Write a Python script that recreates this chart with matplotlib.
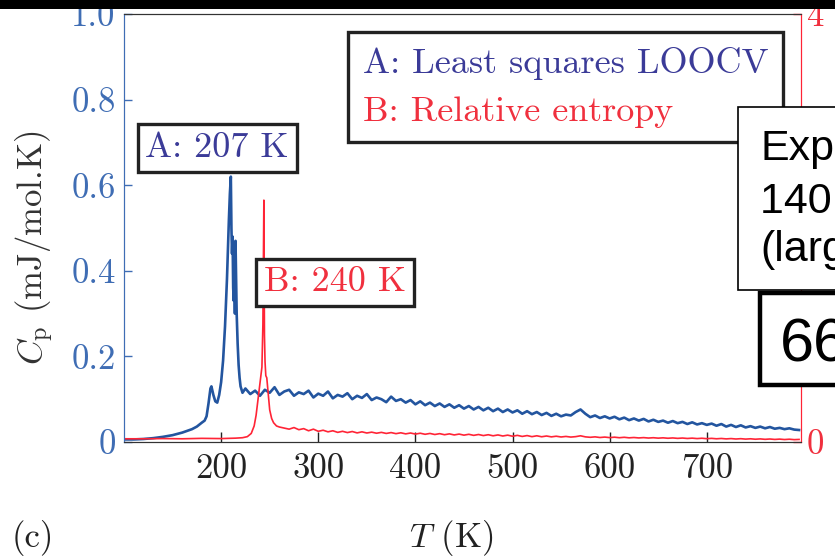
import matplotlib
matplotlib.use("Agg")
import matplotlib.pyplot as plt
from matplotlib.patches import Rectangle

plt.rcParams["font.family"] = "serif"
plt.rcParams["font.serif"] = ["cmr10"]
plt.rcParams["mathtext.fontset"] = "cm"
plt.rcParams["axes.unicode_minus"] = False

# ── data ──
# A: least squares LOOCV, left axis
blue_T = [100, 110, 120, 130, 140, 150, 160, 170, 175, 180, 183, 185, 187, 189, 190,
          192, 194, 196, 198, 200, 202, 204, 206, 207, 208, 209, 210, 210.6, 211.2,
          211.8, 212.4, 213, 213.6, 214.2, 214.8, 215.4, 216, 217, 218, 219, 220, 222,
          225, 230, 235, 240, 245, 250, 255, 260, 265, 270, 275, 280, 285, 290, 295,
          300, 305, 310, 315, 320, 325, 330, 335, 340, 345, 350, 355, 360, 365, 370,
          375, 380, 385, 390, 395, 400, 405, 410, 415, 420, 425, 430, 435, 440, 445,
          450, 455, 460, 465, 470, 475, 480, 485, 490, 495, 500, 505, 510, 515, 520,
          525, 530, 535, 540, 545, 550, 555, 560, 565, 570, 575, 580, 585, 590, 595,
          600, 605, 610, 615, 620, 625, 630, 635, 640, 645, 650, 655, 660, 665, 670,
          675, 680, 685, 690, 695, 700, 705, 710, 715, 720, 725, 730, 735, 740, 745,
          750, 755, 760, 765, 770, 775, 780, 785, 790, 795]
blue_cp = [0.006, 0.006, 0.007, 0.009, 0.012, 0.016, 0.022, 0.030, 0.036, 0.045, 0.050,
           0.060, 0.090, 0.125, 0.130, 0.110, 0.095, 0.092, 0.110, 0.140, 0.190, 0.270,
           0.380, 0.450, 0.520, 0.580, 0.620, 0.500, 0.440, 0.480, 0.360, 0.330, 0.400,
           0.300, 0.470, 0.380, 0.300, 0.230, 0.180, 0.150, 0.130, 0.115,
           0.125, 0.112, 0.120, 0.108, 0.122, 0.115, 0.128, 0.110, 0.118, 0.122, 0.108,
           0.116, 0.112, 0.120, 0.104, 0.113, 0.108, 0.118, 0.102, 0.110, 0.106, 0.114,
           0.100, 0.108, 0.103, 0.112, 0.098, 0.104, 0.100, 0.093, 0.106, 0.096, 0.100,
           0.092, 0.098, 0.088, 0.095, 0.086, 0.092, 0.084, 0.090, 0.082, 0.088, 0.080,
           0.086, 0.078, 0.084, 0.076, 0.082, 0.074, 0.080, 0.072, 0.078, 0.070, 0.076,
           0.069, 0.074, 0.066, 0.072, 0.065, 0.070, 0.063, 0.068, 0.061, 0.066, 0.060,
           0.064, 0.062, 0.070, 0.076, 0.066, 0.058, 0.062, 0.056, 0.060, 0.055, 0.059,
           0.053, 0.057, 0.051, 0.055, 0.050, 0.054, 0.048, 0.052, 0.047, 0.050, 0.045,
           0.049, 0.044, 0.047, 0.042, 0.046, 0.041, 0.044, 0.040, 0.043, 0.038, 0.042,
           0.036, 0.040, 0.035, 0.039, 0.034, 0.037, 0.033, 0.036, 0.032, 0.035, 0.031,
           0.033, 0.030, 0.032, 0.029, 0.028]

# B: relative entropy, right axis
red_T = [100, 120, 140, 160, 180, 200, 215, 222, 227, 231, 234, 236, 238, 240, 241,
         242, 243, 244, 244.6, 245.2, 246, 247, 248, 249, 250, 252, 254, 257, 260,
         265, 270, 275, 280, 285, 290, 295, 300, 305, 310, 315, 320, 325, 330, 335,
         340, 345, 350, 355, 360, 365, 370, 375, 380, 385, 390, 395, 400, 405, 410,
         415, 420, 425, 430, 435, 440, 445, 450, 455, 460, 465, 470, 475, 480, 485,
         490, 495, 500, 505, 510, 515, 520, 525, 530, 535, 540, 545, 550, 555, 560,
         565, 570, 575, 580, 585, 590, 595, 600, 605, 610, 615, 620, 625, 630, 635,
         640, 645, 650, 655, 660, 665, 670, 675, 680, 685, 690, 695, 700, 705, 710,
         715, 720, 725, 730, 735, 740, 745, 750, 755, 760, 765, 770, 775, 780, 785,
         790, 795]
red_cp = [0.030, 0.030, 0.032, 0.030, 0.034, 0.032, 0.036, 0.040, 0.050, 0.080, 0.150,
          0.250, 0.400, 0.550, 0.620, 0.700, 1.100, 2.260, 1.000, 0.750, 0.620, 0.600,
          0.500, 0.400, 0.300, 0.220, 0.180, 0.150, 0.140,
          0.130, 0.120, 0.135, 0.115, 0.125, 0.105, 0.120, 0.100, 0.110, 0.095, 0.105,
          0.090, 0.100, 0.088, 0.098, 0.085, 0.095, 0.084, 0.092, 0.082, 0.090, 0.080,
          0.088, 0.078, 0.086, 0.076, 0.084, 0.074, 0.082, 0.072, 0.080, 0.070, 0.078,
          0.068, 0.076, 0.066, 0.074, 0.064, 0.072, 0.062, 0.070, 0.060, 0.068, 0.058,
          0.066, 0.056, 0.064, 0.054, 0.062, 0.052, 0.060, 0.050, 0.058, 0.049, 0.056,
          0.048, 0.054, 0.047, 0.052, 0.046, 0.050, 0.058, 0.048, 0.044, 0.048, 0.042,
          0.046, 0.041, 0.045, 0.040, 0.044, 0.039, 0.042, 0.038, 0.041, 0.037, 0.040,
          0.036, 0.039, 0.035, 0.038, 0.034, 0.037, 0.033, 0.036, 0.032, 0.035, 0.031,
          0.034, 0.030, 0.033, 0.029, 0.032, 0.028, 0.031, 0.027, 0.030, 0.026, 0.029,
          0.025, 0.028, 0.024, 0.027, 0.023, 0.026, 0.022, 0.024]

x_ticks = [200, 300, 400, 500, 600, 700]
left_ticks = [0, 0.2, 0.4, 0.6, 0.8, 1.0]
left_labels = ["0", "0.2", "0.4", "0.6", "0.8", "1.0"]
right_ticks = [0, 1, 2, 3, 4]

BLUE = "#23559f"
BLUE_TXT = "#3f6db4"
INDIGO = "#3b3b98"
RED = "#ff2436"
RED_TXT = "#f0303e"
FS = 25      # tick labels, axis labels
FS_BOX = 26  # legend and peak labels

W, H = 835, 557


def fx(x):
    return x / W


def fy(y):
    return 1 - y / H


fig = plt.figure(figsize=(W / 100, H / 100), dpi=100)
ax = fig.add_axes([fx(124), fy(442), fx(801) - fx(124), fy(14) - fy(442)])
ax2 = ax.twinx()

ax.plot(blue_T, blue_cp, color=BLUE, lw=1.9, label="A: Least squares LOOCV")
ax2.plot(red_T, red_cp, color=RED, lw=1.2, label="B: Relative entropy")

ax.set_xlim(100, 797)
ax.set_ylim(0, 1.0)
ax2.set_ylim(0, 4)

ax.set_xticks(x_ticks)
ax.set_xticklabels([str(t) for t in x_ticks])
ax.set_yticks(left_ticks)
ax.set_yticklabels(left_labels)
ax2.set_yticks(right_ticks)

ax.tick_params(axis="x", direction="in", length=7, width=1, colors="#222222",
               labelsize=FS, pad=8)
ax.tick_params(axis="y", direction="in", length=6, width=1, colors=BLUE_TXT,
               labelsize=FS, pad=6)
ax2.tick_params(axis="y", direction="in", length=6, width=1, colors=RED_TXT,
                labelsize=FS, pad=4)

for a in (ax, ax2):
    a.spines["top"].set_color("#333333")
    a.spines["bottom"].set_color("#333333")
    a.spines["left"].set_color(BLUE_TXT)
    a.spines["right"].set_color(RED)

ax.set_ylabel(r"$C_{\mathrm{p}}$ (mJ/mol.K)", fontsize=FS, color="#333333")
ax.yaxis.set_label_coords((56 - 124) / 677, (442 - 248) / 428)

fig.text(fx(451), fy(538), r"$T$ (K)", fontsize=FS, ha="center", va="center",
         color="#222222")
fig.text(fx(12), fy(538), "(c)", fontsize=FS, ha="left", va="center", color="#222222")

# legend
h1, l1 = ax.get_legend_handles_labels()
h2, l2 = ax2.get_legend_handles_labels()
leg = ax2.legend(h1 + h2, l1 + l2, loc="upper right", fontsize=FS_BOX, handlelength=0,
                 handletextpad=0, fancybox=False, framealpha=1, edgecolor="#222222",
                 borderaxespad=0.5, borderpad=0.4, labelspacing=0.45)
leg.get_frame().set_linewidth(2.4)
for txt, c in zip(leg.get_texts(), [INDIGO, RED_TXT]):
    txt.set_color(c)

# peak annotations
box = dict(boxstyle="square,pad=0.22", fc="white", ec="#222222", lw=2.4)
ax2.text(196, (440 - 148) / 425 * 4, "A: 207 K", fontsize=FS_BOX, color=INDIGO,
         ha="center", va="center", bbox=box)
ax2.text(317, (440 - 281.5) / 425 * 4, "B: 240 K", fontsize=FS_BOX, color=RED_TXT,
         ha="center", va="center", bbox=box)

# pasted boxes over the right edge
fig.add_artist(Rectangle((fx(738), fy(290)), fx(860) - fx(738), fy(107) - fy(290),
                         transform=fig.transFigure, fc="white", ec="black", lw=1.2))
for yb, s in [(160, "Experiment"), (213, "140 K"), (261, "(large")]:
    fig.text(fx(760), fy(yb), s, fontsize=31, family="Liberation Sans", va="baseline",
             ha="left", color="black")
fig.add_artist(Rectangle((fx(760), fy(385)), fx(870) - fx(760), fy(293) - fy(385),
                         transform=fig.transFigure, fc="white", ec="black", lw=3.2))
fig.text(fx(780), fy(362), "66", fontsize=44, family="Liberation Sans", va="baseline",
         ha="left", color="black")

# black strip at the top edge
fig.add_artist(Rectangle((0, fy(9)), 1, fy(0) - fy(9), transform=fig.transFigure,
                         fc="black", ec="none"))

fig.savefig("out.png", dpi=100)
